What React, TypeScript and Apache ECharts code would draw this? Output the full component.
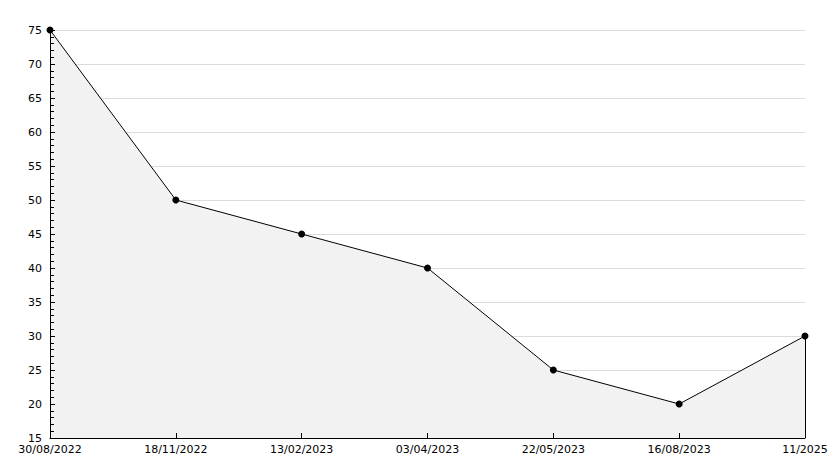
import React, { useEffect, useRef } from "react";
import * as echarts from "echarts";

const categories = ["30/08/2022", "18/11/2022", "13/02/2023", "03/04/2023", "22/05/2023", "16/08/2023", "11/2025"];
const values = [75, 50, 45, 40, 25, 20, 30];
const yMin = 15;
const yMax = 75;
const yInterval = 5;

export default function App() {
  const ref = useRef<HTMLDivElement>(null);
  useEffect(() => {
    if (!ref.current) return;
    const chart = echarts.init(ref.current, null, { renderer: "svg" });
    const last = categories.length - 1;
    chart.setOption({
      animation: false,
      backgroundColor: "#ffffff",
      grid: { left: 50, right: 29, top: 30, bottom: 30, containLabel: false },
      xAxis: {
        type: "category",
        data: categories,
        boundaryGap: false,
        z: 5,
        axisLine: { show: true, lineStyle: { color: "#000", width: 1 } },
        axisTick: { show: true, inside: true, length: 5, alignWithLabel: true, lineStyle: { color: "#000" } },
        axisLabel: { color: "#000", fontFamily: "DejaVu Sans", fontSize: 11, margin: 6, interval: 0 },
        splitLine: { show: false },
      },
      yAxis: [
        {
          type: "value",
          min: yMin,
          max: yMax,
          interval: yInterval,
          z: 0,
          axisLine: { show: false },
          axisTick: { show: false },
          axisLabel: { show: false },
          splitLine: { show: true, lineStyle: { color: "#dcdcdc", width: 1 } },
        },
        {
          type: "value",
          position: "left",
          min: yMin,
          max: yMax,
          interval: yInterval,
          z: 5,
          axisLine: { show: true, onZero: false, lineStyle: { color: "#000", width: 1 } },
          axisTick: { show: true, inside: true, length: 5, lineStyle: { color: "#000" } },
          minorTick: { show: true, splitNumber: 5, length: 4, lineStyle: { color: "#000" } },
          axisLabel: { color: "#000", fontFamily: "DejaVu Sans", fontSize: 11, margin: 8 },
          splitLine: { show: false },
        },
      ],
      series: [
        {
          type: "line",
          yAxisIndex: 0,
          data: values,
          symbol: "circle",
          symbolSize: 7,
          itemStyle: { color: "#000" },
          lineStyle: { color: "#000", width: 1 },
          areaStyle: { color: "#f2f2f2", opacity: 1, origin: "start" },
          markLine: {
            silent: true,
            symbol: "none",
            label: { show: false },
            lineStyle: { color: "#000", width: 1, type: "solid" },
            data: [[{ coord: [categories[last], yMin] }, { coord: [categories[last], values[last]] }]],
          },
        },
      ],
    });
    return () => chart.dispose();
  }, []);
  return <div ref={ref} style={{ width: 834, height: 468, position: "absolute", left: 0, top: 0 }} />;
}
